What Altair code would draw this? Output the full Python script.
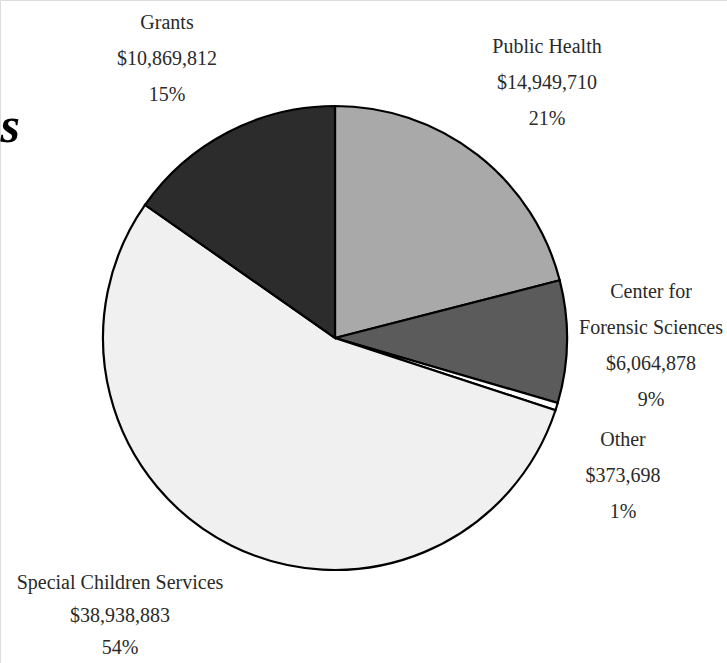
import altair as alt
import pandas as pd

categories = ["Public Health", "Center for Forensic Sciences", "Other",
              "Special Children Services", "Grants"]
amounts = [14949710, 6064878, 373698, 38938883, 10869812]
percents = ["21%", "9%", "1%", "54%", "15%"]
label_lines = [["Public Health"], ["Center for", "Forensic Sciences"], ["Other"],
               ["Special Children Services"], ["Grants"]]
colors = ["#a9a9a9", "#5b5b5b", "#ffffff", "#f0f0f0", "#2c2c2c"]

df = pd.DataFrame({
    "category": categories,
    "amount": amounts,
    "order": list(range(len(categories))),
})

W, H = 727, 663
CX, CY, R = 335, 338, 232

pie = alt.Chart(df).mark_arc(stroke="#000000", strokeWidth=2.2).encode(
    theta=alt.Theta("amount:Q", stack=True),
    order=alt.Order("order:Q"),
    color=alt.Color("category:N", scale=alt.Scale(domain=categories, range=colors), legend=None),
    x=alt.value(CX), y=alt.value(CY), radius=alt.value(R),
)

# label layout (annotation placement): center x, first-line y, line spacing
label_pos = {
    "Public Health": (547, 47, 36),
    "Center for Forensic Sciences": (651, 292, 36),
    "Other": (623, 440, 36),
    "Special Children Services": (120, 583, 32.5),
    "Grants": (167, 23, 36),
}

layers = [pie]
for cat, amt, pct, lines in zip(categories, amounts, percents, label_lines):
    x0, y0, sp = label_pos[cat]
    text_lines = lines + ["${:,}".format(amt), pct]
    layers.append(
        alt.Chart(pd.DataFrame({"t": ["\n".join(text_lines)]})).mark_text(
            font="Liberation Serif", fontSize=20, color="#2a2a2a",
            align="center", baseline="middle", lineBreak="\n", lineHeight=sp,
        ).encode(text="t:N", x=alt.value(x0), y=alt.value(y0))
    )

title_frag = alt.Chart(pd.DataFrame({"t": ["s"]})).mark_text(
    font="Liberation Serif", fontSize=50, fontWeight="bold", fontStyle="italic",
    align="right", baseline="alphabetic", color="#000000",
).encode(text="t:N", x=alt.value(20), y=alt.value(142))
layers.append(title_frag)

chart = alt.layer(*layers).properties(
    width=W, height=H, padding=0, autosize=alt.AutoSizeParams(type="none"),
).configure_view(stroke=None).configure(background="#ffffff")

chart.save("out.html", embed_options={"renderer": "svg", "actions": False})
